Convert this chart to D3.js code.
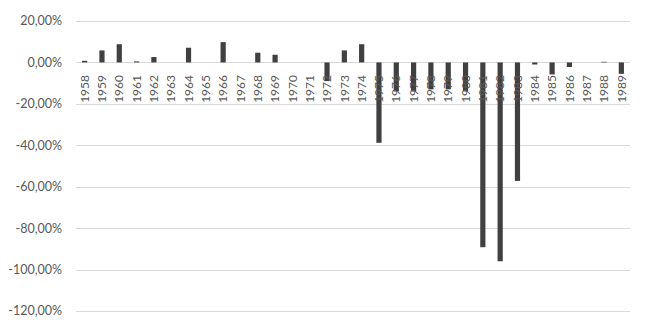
<!DOCTYPE html>
<html>
<head>
<meta charset="utf-8">
<script src="https://cdn.jsdelivr.net/npm/d3@7"></script>
<style>
  body { margin: 0; background: #fff; }
  svg text { font-family: Lato, "Open Sans", sans-serif; fill: #595959; }
</style>
</head>
<body>
<div id="chart"></div>
<script>
// years on the category axis
const years = d3.range(1958, 1990).map(String);

// yearly change, in percent
const values = [
  0.8, 5.8, 8.8, 0.5, 2.6, 0, 7.1, 0, 9.8, 0,
  4.7, 3.7, 0, 0, -9.0, 5.8, 8.8, -38.8, -14, -14,
  -13, -13, -14, -89.2, -96, -57.2, -1, -5.8, -2.2, 0,
  0.3, -5.5
];

const yTicks = [20, 0, -20, -40, -60, -80, -100, -120];

const width = 650, height = 329;
const margin = {top: 21, right: 20, bottom: 18, left: 76};

const svg = d3.select("#chart")
  .append("svg")
  .attr("width", width)
  .attr("height", height);

const x = d3.scaleBand()
  .domain(years)
  .range([margin.left, width - margin.right])
  .paddingInner(0.7)
  .paddingOuter(0.35);

const y = d3.scaleLinear()
  .domain([-120, 20])
  .range([height - margin.bottom, margin.top]);

const fmt = v => v.toFixed(2).replace(".", ",") + "%";

// gridlines
svg.append("g")
  .selectAll("line")
  .data(yTicks)
  .enter()
  .append("line")
  .attr("x1", margin.left)
  .attr("x2", width - margin.right)
  .attr("y1", d => Math.round(y(d)) + 0.5)
  .attr("y2", d => Math.round(y(d)) + 0.5)
  .attr("stroke", "#d9d9d9")
  .attr("stroke-width", 1);

// y tick labels
svg.append("g")
  .selectAll("text")
  .data(yTicks)
  .enter()
  .append("text")
  .attr("x", 62)
  .attr("y", d => y(d))
  .attr("dy", "0.35em")
  .attr("text-anchor", "end")
  .style("font-size", "12.5px")
  .text(fmt);

// bars
svg.append("g")
  .selectAll("rect")
  .data(values)
  .enter()
  .append("rect")
  .attr("x", (d, i) => x(years[i]))
  .attr("width", x.bandwidth())
  .attr("y", d => y(Math.max(0, d)))
  .attr("height", d => Math.abs(y(d) - y(0)))
  .attr("fill", "#404040");

// year labels, rotated
svg.append("g")
  .selectAll("text")
  .data(years)
  .enter()
  .append("text")
  .attr("transform", d => "translate(" + (x(d) + x.bandwidth() / 2) + "," + (y(-20) - 1) + ") rotate(-90)")
  .attr("dy", "0.35em")
  .attr("text-anchor", "start")
  .style("font-size", "12px")
  .text(d => d);
</script>
</body>
</html>
